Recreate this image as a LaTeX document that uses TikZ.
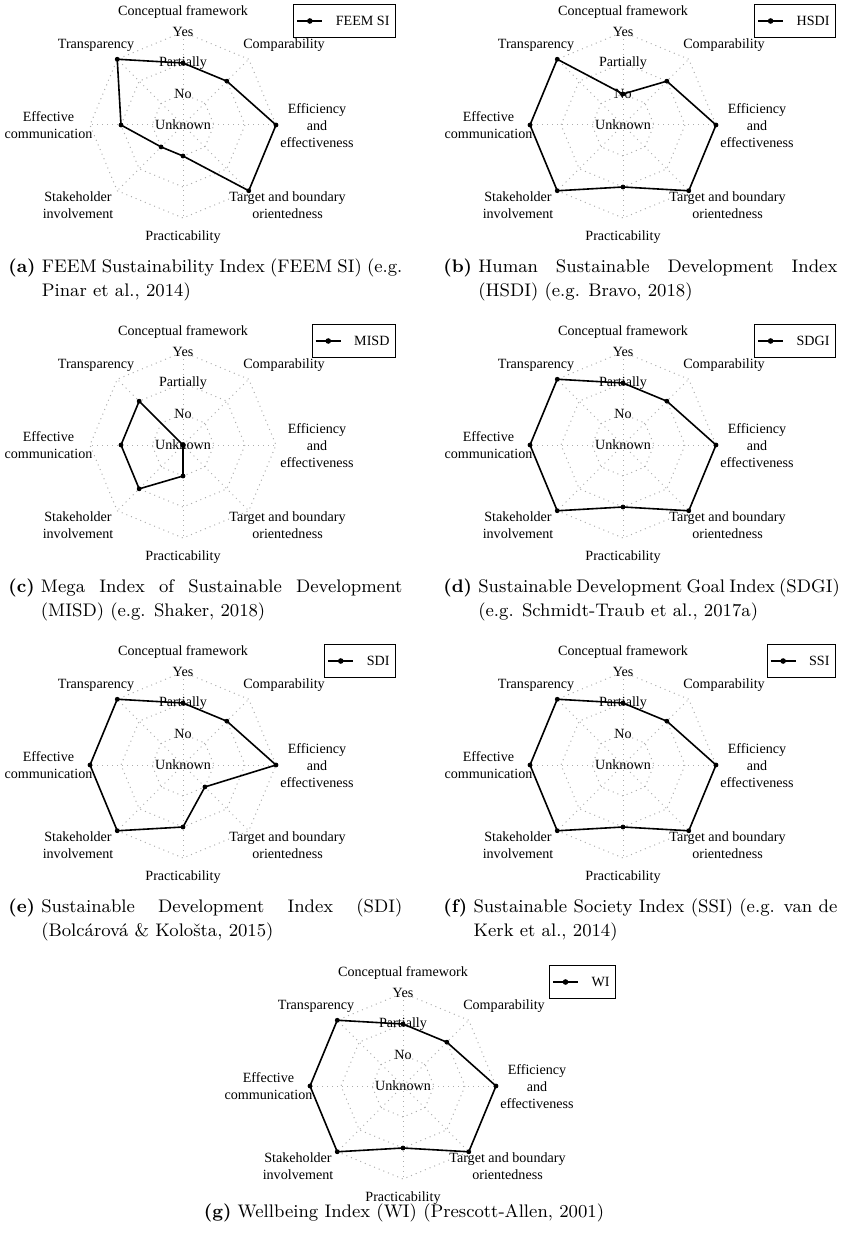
\documentclass[tikz,border=0pt]{standalone}
\usepackage{fontspec}
\newfontfamily\chartfont{Liberation Serif}
\usetikzlibrary{calc}

\newsavebox\caplabelbox
\newlength\capwidth
\setlength\capwidth{197pt}
% hanging sub-caption: bold label, a justified first line, then a second line
\newcommand\subcaptext[3]{%
  \sbox\caplabelbox{\textbf{(#1)}\ }%
  \usebox\caplabelbox\parbox[t]{\dimexpr\capwidth-\wd\caplabelbox\relax}{\makebox[\linewidth][s]{#2}\\#3}}

\tikzset{
  gridline/.style={draw=gray!65, dotted, line width=0.5pt},
  dataline/.style={draw=black, line width=0.8pt},
  datamark/.style={fill=black},
  axislabel/.style={font=\chartfont\fontsize{7.05pt}{8.5pt}\selectfont, align=center, inner sep=0pt},
  legendbox/.style={draw=black, line width=0.5pt, font=\chartfont\fontsize{7.05pt}{8.5pt}\selectfont,
    minimum height=16.5pt, inner xsep=3pt, inner ysep=0pt},
  captext/.style={font=\fontsize{9.1pt}{12pt}\selectfont, inner sep=0pt},
}

% radar chart: #1 name, #2 centre, #3 legend entry, #4 eight scores (0 = Unknown ... 3 = Yes)
\newcommand\radarchart[4]{%
\begin{scope}[shift={(#2)}]
  \coordinate (#1-c) at (0,0);
  \foreach \r in {31,62,93}
    \draw[gridline] (-90:\r) -- (-45:\r) -- (0:\r) -- (45:\r) -- (90:\r) -- (135:\r) -- (180:\r) -- (225:\r) -- cycle;
  \foreach \a in {-90,-45,0,45,90,135,180,225}
    \draw[gridline] (#1-c) -- (\a:93);
  \node[axislabel] (#1-cf)  at (0,-113)    {Conceptual framework};
  \node[axislabel] (#1-cmp) at (101,-80)   {Comparability};
  \node[axislabel] (#1-eff) at (134,1)     {Efficiency\\and\\effectiveness};
  \node[axislabel] (#1-tgt) at (104.5,80)  {Target and boundary\\orientedness};
  \node[axislabel] (#1-pra) at (0,112)     {Practicability};
  \node[axislabel] (#1-stk) at (-105,80)   {Stakeholder\\involvement};
  \node[axislabel] (#1-com) at (-134.5,0)  {Effective\\communication};
  \node[axislabel] (#1-trn) at (-87,-80)   {Transparency};
  \node[axislabel] (#1-yes) at (0,-93) {Yes};
  \node[axislabel] (#1-par) at (0,-62) {Partially};
  \node[axislabel] (#1-no)  at (0,-31) {No};
  \node[axislabel] (#1-unk) at (0,0)   {Unknown};
  \foreach \v [count=\i] in {#4}
    \coordinate (#1-p\i) at ({45*\i-135}:{31*\v});
  \draw[dataline] (#1-p1) -- (#1-p2) -- (#1-p3) -- (#1-p4) -- (#1-p5) -- (#1-p6) -- (#1-p7) -- (#1-p8) -- cycle;
  \foreach \i in {1,...,8}
    \fill[datamark] (#1-p\i) circle[radius=1.2pt];
  \node[legendbox, anchor=north east] (#1-leg) at (213,-121) {\hspace*{18pt}#3};
  \coordinate (#1-ls) at ([xshift=2pt]#1-leg.west);
  \coordinate (#1-le) at ([xshift=14.5pt]#1-leg.west);
  \draw[dataline] (#1-ls) -- (#1-le);
  \fill[datamark] ($(#1-ls)!0.5!(#1-le)$) circle[radius=1.4pt];
\end{scope}}

\begin{document}
\begin{tikzpicture}[x=0.5pt, y=-0.5pt]
  \useasboundingbox (0,0) rectangle (845,1241);

  \radarchart{feem}{183,125}{FEEM SI}{2,2,3,3,1,1,2,3}
  \radarchart{hsdi}{623,125}{HSDI}{1,2,3,3,2,3,3,3}
  \radarchart{misd}{183,445}{MISD}{0,0,0,0,1,2,2,2}
  \radarchart{sdgi}{623,445}{SDGI}{2,2,3,3,2,3,3,3}
  \radarchart{sdi}{183,765}{SDI}{2,2,3,1,2,3,3,3}
  \radarchart{ssi}{623,765}{SSI}{2,2,3,3,2,3,3,3}
  \radarchart{wi}{403,1086}{WI}{2,2,3,3,2,3,3,3}

  \node[captext, anchor=base west] (cap-a) at (8,272)
    {\subcaptext{a}{FEEM Sustainability Index (FEEM SI) (e.g.}{Pinar et al., 2014)}};
  \node[captext, anchor=base west] (cap-b) at (443,272)
    {\subcaptext{b}{Human Sustainable Development Index}{(HSDI) (e.g. Bravo, 2018)}};
  \node[captext, anchor=base west] (cap-c) at (8,592)
    {\subcaptext{c}{Mega Index of Sustainable Development}{(MISD) (e.g. Shaker, 2018)}};
  \node[captext, anchor=base west] (cap-d) at (443,592)
    {\subcaptext{d}{Sustainable Development Goal Index (SDGI)}{(e.g. Schmidt-Traub et al., 2017a)}};
  \node[captext, anchor=base west] (cap-e) at (8,912)
    {\subcaptext{e}{Sustainable Development Index (SDI)}{(Bolcárová \& Kološta, 2015)}};
  \node[captext, anchor=base west] (cap-f) at (443,912)
    {\subcaptext{f}{Sustainable Society Index (SSI) (e.g. van de}{Kerk et al., 2014)}};
  \node[captext, anchor=base] (cap-g) at (404,1217)
    {\textbf{(g)} Wellbeing Index (WI) (Prescott-Allen, 2001)};
\end{tikzpicture}
\end{document}
